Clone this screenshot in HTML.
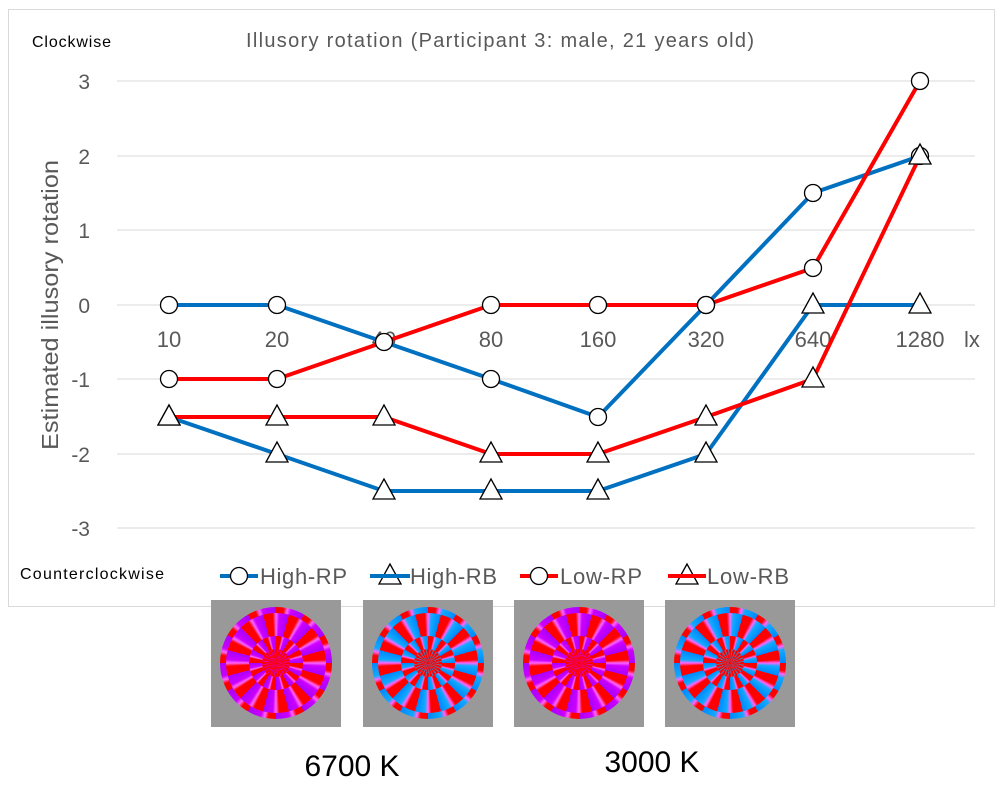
<!DOCTYPE html>
<html><head><style>
body{margin:0;background:#fff;width:1006px;height:788px;overflow:hidden;position:relative;font-family:"Liberation Sans",sans-serif}
.img{position:absolute;top:600px;width:130px;height:127px;background:#999}
.disk{position:absolute;left:9px;top:7px;width:112px;height:112px;border-radius:50%}
.r{position:absolute;border-radius:50%}
</style></head><body>
<svg width="1006" height="788" style="position:absolute;left:0;top:0">
<rect x="8.5" y="9.5" width="986" height="597" fill="none" stroke="#d9d9d9"/>
<g stroke="#d9d9d9" stroke-width="1">
<line x1="117" x2="975" y1="81" y2="81"/><line x1="117" x2="975" y1="156" y2="156"/><line x1="117" x2="975" y1="230" y2="230"/><line x1="117" x2="975" y1="305" y2="305"/><line x1="117" x2="975" y1="379" y2="379"/><line x1="117" x2="975" y1="454" y2="454"/><line x1="117" x2="975" y1="528" y2="528"/>
</g>
<g font-size="21" fill="#595959" text-anchor="end">
<text x="90" y="89">3</text><text x="90" y="164">2</text><text x="90" y="238">1</text><text x="90" y="313">0</text><text x="90" y="387">-1</text><text x="90" y="462">-2</text><text x="90" y="536">-3</text>
</g>
<g font-size="22" fill="#595959" text-anchor="middle">
<text x="169" y="347">10</text><text x="277" y="347">20</text><text x="384" y="347">40</text><text x="491" y="347">80</text><text x="598" y="347">160</text><text x="706" y="347">320</text><text x="813" y="347">640</text><text x="920" y="347">1280</text>
<text x="972" y="347">lx</text>
</g>
<text x="58" y="305" font-size="23" fill="#595959" text-anchor="middle" transform="rotate(-90 58 305)" textLength="290" lengthAdjust="spacingAndGlyphs">Estimated illusory rotation</text>
<text x="32" y="47" font-size="16" fill="#000" textLength="79">Clockwise</text>
<text x="20" y="579" font-size="16" fill="#000" textLength="144">Counterclockwise</text>
<text x="500" y="47" font-size="20" fill="#595959" text-anchor="middle" textLength="508">Illusory rotation (Participant 3: male, 21 years old)</text>
<g fill="none" stroke-width="4" stroke-linejoin="round">
<polyline stroke="#0070c0" points="169,305 277,305 384,342 491,379 598,417 706,305 813,193 920,156"/>
<polyline stroke="#0070c0" points="169,417 277,454 384,491 491,491 598,491 706,454 813,305 920,305"/>
<polyline stroke="#ff0000" points="169,379 277,379 384,342 491,305 598,305 706,305 813,268 920,81"/>
<polyline stroke="#ff0000" points="169,417 277,417 384,417 491,454 598,454 706,417 813,379 920,156"/>
</g>
<g fill="#fff" stroke="#000" stroke-width="1.3">
<circle cx="169" cy="305" r="8.5"/><circle cx="277" cy="305" r="8.5"/><circle cx="384" cy="342" r="8.5"/><circle cx="491" cy="379" r="8.5"/><circle cx="598" cy="417" r="8.5"/><circle cx="706" cy="305" r="8.5"/><circle cx="813" cy="193" r="8.5"/><circle cx="920" cy="156" r="8.5"/>
<circle cx="169" cy="379" r="8.5"/><circle cx="277" cy="379" r="8.5"/><circle cx="491" cy="305" r="8.5"/><circle cx="598" cy="305" r="8.5"/><circle cx="706" cy="305" r="8.5"/><circle cx="813" cy="268" r="8.5"/><circle cx="920" cy="81" r="8.5"/>
</g>
<g fill="#fff" stroke="#000" stroke-width="1.3" id="tris"></g>
<g font-size="22" fill="#595959">
<line x1="220" x2="258" y1="576" y2="576" stroke="#0070c0" stroke-width="4"/><circle cx="239" cy="576" r="8.5" fill="#fff" stroke="#000" stroke-width="1.3"/><text x="260" y="584" textLength="87">High-RP</text>
<line x1="370" x2="410" y1="576" y2="576" stroke="#0070c0" stroke-width="4"/><text x="410" y="584" textLength="87">High-RB</text>
<line x1="520" x2="558" y1="576" y2="576" stroke="#ff0000" stroke-width="4"/><circle cx="539" cy="576" r="8.5" fill="#fff" stroke="#000" stroke-width="1.3"/><text x="560" y="584" textLength="82">Low-RP</text>
<line x1="668" x2="706" y1="576" y2="576" stroke="#ff0000" stroke-width="4"/><text x="707" y="584" textLength="82">Low-RB</text>
</g>
<text x="352" y="776" font-size="30" fill="#000" text-anchor="middle">6700 K</text>
<text x="652" y="772" font-size="30" fill="#000" text-anchor="middle">3000 K</text>
</svg>
<script>
var pts=[[169,417],[277,454],[384,491],[491,491],[598,491],[706,454],[813,305],[920,305],[169,417],[277,417],[384,417],[491,454],[598,454],[706,417],[813,379],[920,156],[390,576],[687,576]];
var g=document.getElementById('tris'),s='';
pts.forEach(function(p){s+='<polygon points="'+p[0]+','+(p[1]-12)+' '+(p[0]-11)+','+(p[1]+8)+' '+(p[0]+11)+','+(p[1]+8)+'"/>';});
g.innerHTML=s;
</script>
<div class="img" style="left:211px"><div class="disk" style="background:repeating-conic-gradient(#f00 0 8deg,#f6f 12deg,#c0f 16deg,#a0f 30deg)">
<div class="r" style="left:6px;top:6px;width:100px;height:100px;background:repeating-conic-gradient(from 15deg,#f00 0 11deg,#f6f 15deg,#c0f 19deg,#a0f 30deg)"></div>
<div class="r" style="left:29px;top:29px;width:54px;height:54px;background:repeating-conic-gradient(#f00 0 11deg,#f6f 15deg,#c0f 19deg,#a0f 30deg)"></div>
<div class="r" style="left:42px;top:42px;width:28px;height:28px;background:repeating-conic-gradient(from 11deg,#f00 0 8deg,#c0f 15deg)"></div></div></div>
<div class="img" style="left:363px"><div class="disk" style="background:repeating-conic-gradient(#f00 0 8deg,#f6f 12deg,#1af 16deg,#08f 30deg)">
<div class="r" style="left:6px;top:6px;width:100px;height:100px;background:repeating-conic-gradient(from 15deg,#f00 0 11deg,#f6f 15deg,#1af 19deg,#08f 30deg)"></div>
<div class="r" style="left:29px;top:29px;width:54px;height:54px;background:repeating-conic-gradient(#f00 0 11deg,#f6f 15deg,#1af 19deg,#08f 30deg)"></div>
<div class="r" style="left:42px;top:42px;width:28px;height:28px;background:repeating-conic-gradient(from 11deg,#f00 0 8deg,#1af 15deg)"></div></div></div>
<div class="img" style="left:514px"><div class="disk" style="background:repeating-conic-gradient(#f00 0 8deg,#f6f 12deg,#c0f 16deg,#a0f 30deg)">
<div class="r" style="left:6px;top:6px;width:100px;height:100px;background:repeating-conic-gradient(from 15deg,#f00 0 11deg,#f6f 15deg,#c0f 19deg,#a0f 30deg)"></div>
<div class="r" style="left:29px;top:29px;width:54px;height:54px;background:repeating-conic-gradient(#f00 0 11deg,#f6f 15deg,#c0f 19deg,#a0f 30deg)"></div>
<div class="r" style="left:42px;top:42px;width:28px;height:28px;background:repeating-conic-gradient(from 11deg,#f00 0 8deg,#c0f 15deg)"></div></div></div>
<div class="img" style="left:665px"><div class="disk" style="background:repeating-conic-gradient(#f00 0 8deg,#f6f 12deg,#1af 16deg,#08f 30deg)">
<div class="r" style="left:6px;top:6px;width:100px;height:100px;background:repeating-conic-gradient(from 15deg,#f00 0 11deg,#f6f 15deg,#1af 19deg,#08f 30deg)"></div>
<div class="r" style="left:29px;top:29px;width:54px;height:54px;background:repeating-conic-gradient(#f00 0 11deg,#f6f 15deg,#1af 19deg,#08f 30deg)"></div>
<div class="r" style="left:42px;top:42px;width:28px;height:28px;background:repeating-conic-gradient(from 11deg,#f00 0 8deg,#1af 15deg)"></div></div></div>
</body></html>
